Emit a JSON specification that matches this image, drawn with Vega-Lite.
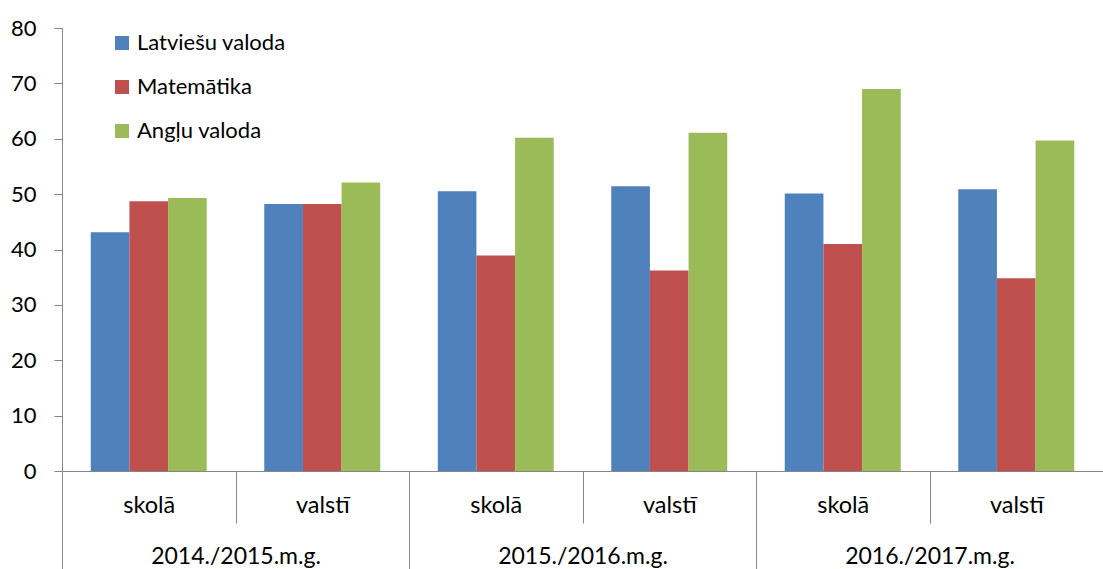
{
  "$schema": "https://vega.github.io/schema/vega-lite/v6.json",
  "width": 1041,
  "height": 443,
  "autosize": "none",
  "padding": {"left": 62, "top": 28, "right": 0, "bottom": 98},
  "background": "white",
  "config": {
    "font": "Lato",
    "view": {"stroke": null},
    "axis": {"labelFont": "Lato", "labelColor": "#000000", "domainColor": "#868686", "tickColor": "#868686", "grid": false, "title": null}
  },
  "data": {
    "values": [
      {"gads": "2014./2015.m.g.", "grupa": "2014./2015.m.g.|skolā", "prieksmets": "Latviešu valoda", "vertiba": 43.1},
      {"gads": "2014./2015.m.g.", "grupa": "2014./2015.m.g.|skolā", "prieksmets": "Matemātika", "vertiba": 48.7},
      {"gads": "2014./2015.m.g.", "grupa": "2014./2015.m.g.|skolā", "prieksmets": "Angļu valoda", "vertiba": 49.3},
      {"gads": "2014./2015.m.g.", "grupa": "2014./2015.m.g.|valstī", "prieksmets": "Latviešu valoda", "vertiba": 48.2},
      {"gads": "2014./2015.m.g.", "grupa": "2014./2015.m.g.|valstī", "prieksmets": "Matemātika", "vertiba": 48.2},
      {"gads": "2014./2015.m.g.", "grupa": "2014./2015.m.g.|valstī", "prieksmets": "Angļu valoda", "vertiba": 52.1},
      {"gads": "2015./2016.m.g.", "grupa": "2015./2016.m.g.|skolā", "prieksmets": "Latviešu valoda", "vertiba": 50.5},
      {"gads": "2015./2016.m.g.", "grupa": "2015./2016.m.g.|skolā", "prieksmets": "Matemātika", "vertiba": 38.9},
      {"gads": "2015./2016.m.g.", "grupa": "2015./2016.m.g.|skolā", "prieksmets": "Angļu valoda", "vertiba": 60.2},
      {"gads": "2015./2016.m.g.", "grupa": "2015./2016.m.g.|valstī", "prieksmets": "Latviešu valoda", "vertiba": 51.4},
      {"gads": "2015./2016.m.g.", "grupa": "2015./2016.m.g.|valstī", "prieksmets": "Matemātika", "vertiba": 36.2},
      {"gads": "2015./2016.m.g.", "grupa": "2015./2016.m.g.|valstī", "prieksmets": "Angļu valoda", "vertiba": 61.1},
      {"gads": "2016./2017.m.g.", "grupa": "2016./2017.m.g.|skolā", "prieksmets": "Latviešu valoda", "vertiba": 50.1},
      {"gads": "2016./2017.m.g.", "grupa": "2016./2017.m.g.|skolā", "prieksmets": "Matemātika", "vertiba": 41.0},
      {"gads": "2016./2017.m.g.", "grupa": "2016./2017.m.g.|skolā", "prieksmets": "Angļu valoda", "vertiba": 69.0},
      {"gads": "2016./2017.m.g.", "grupa": "2016./2017.m.g.|valstī", "prieksmets": "Latviešu valoda", "vertiba": 50.9},
      {"gads": "2016./2017.m.g.", "grupa": "2016./2017.m.g.|valstī", "prieksmets": "Matemātika", "vertiba": 34.8},
      {"gads": "2016./2017.m.g.", "grupa": "2016./2017.m.g.|valstī", "prieksmets": "Angļu valoda", "vertiba": 59.7}
    ]
  },
  "layer": [
    {
      "mark": {"type": "bar"},
      "encoding": {
        "x": {
          "field": "grupa", "type": "nominal", "sort": null,
          "scale": {"paddingInner": 0, "paddingOuter": 0},
          "axis": {
            "orient": "bottom", "labelAngle": 0, "tickBand": "extent", "tickSize": 52,
            "labelPadding": -30, "labelFontSize": 23.5,
            "labelExpr": "split(datum.value, '|')[1]"
          }
        },
        "xOffset": {
          "field": "prieksmets", "type": "nominal", "sort": ["Latviešu valoda", "Matemātika", "Angļu valoda"],
          "scale": {"paddingInner": 0, "paddingOuter": 0.744}
        },
        "y": {
          "field": "vertiba", "type": "quantitative",
          "scale": {"domain": [0, 80], "nice": false, "zero": true},
          "axis": {"values": [0, 10, 20, 30, 40, 50, 60, 70, 80], "tickSize": 8, "labelPadding": 18, "labelFontSize": 22, "domain": true}
        },
        "color": {
          "field": "prieksmets", "type": "nominal", "sort": ["Latviešu valoda", "Matemātika", "Angļu valoda"],
          "scale": {"domain": ["Latviešu valoda", "Matemātika", "Angļu valoda"], "range": ["#4F81BD", "#C0504D", "#9BBB59"]},
          "legend": {
            "title": null, "orient": "none", "legendX": 49, "legendY": 4,
            "symbolType": "square", "symbolSize": 196, "symbolStrokeWidth": 0,
            "labelFontSize": 22, "labelFont": "Lato", "labelColor": "#000000", "labelOffset": 4, "rowPadding": 22
          }
        }
      }
    },
    {
      "mark": {"type": "rule", "opacity": 0},
      "encoding": {
        "x": {
          "field": "gads", "type": "nominal", "sort": null,
          "scale": {"paddingInner": 0, "paddingOuter": 0},
          "axis": {
            "orient": "bottom", "labelAngle": 0, "tickBand": "extent", "tickSize": 98,
            "labelPadding": -1, "labelBaseline": "bottom", "labelFontSize": 23, "domain": false
          }
        }
      }
    }
  ],
  "resolve": {"scale": {"x": "independent"}}
}
